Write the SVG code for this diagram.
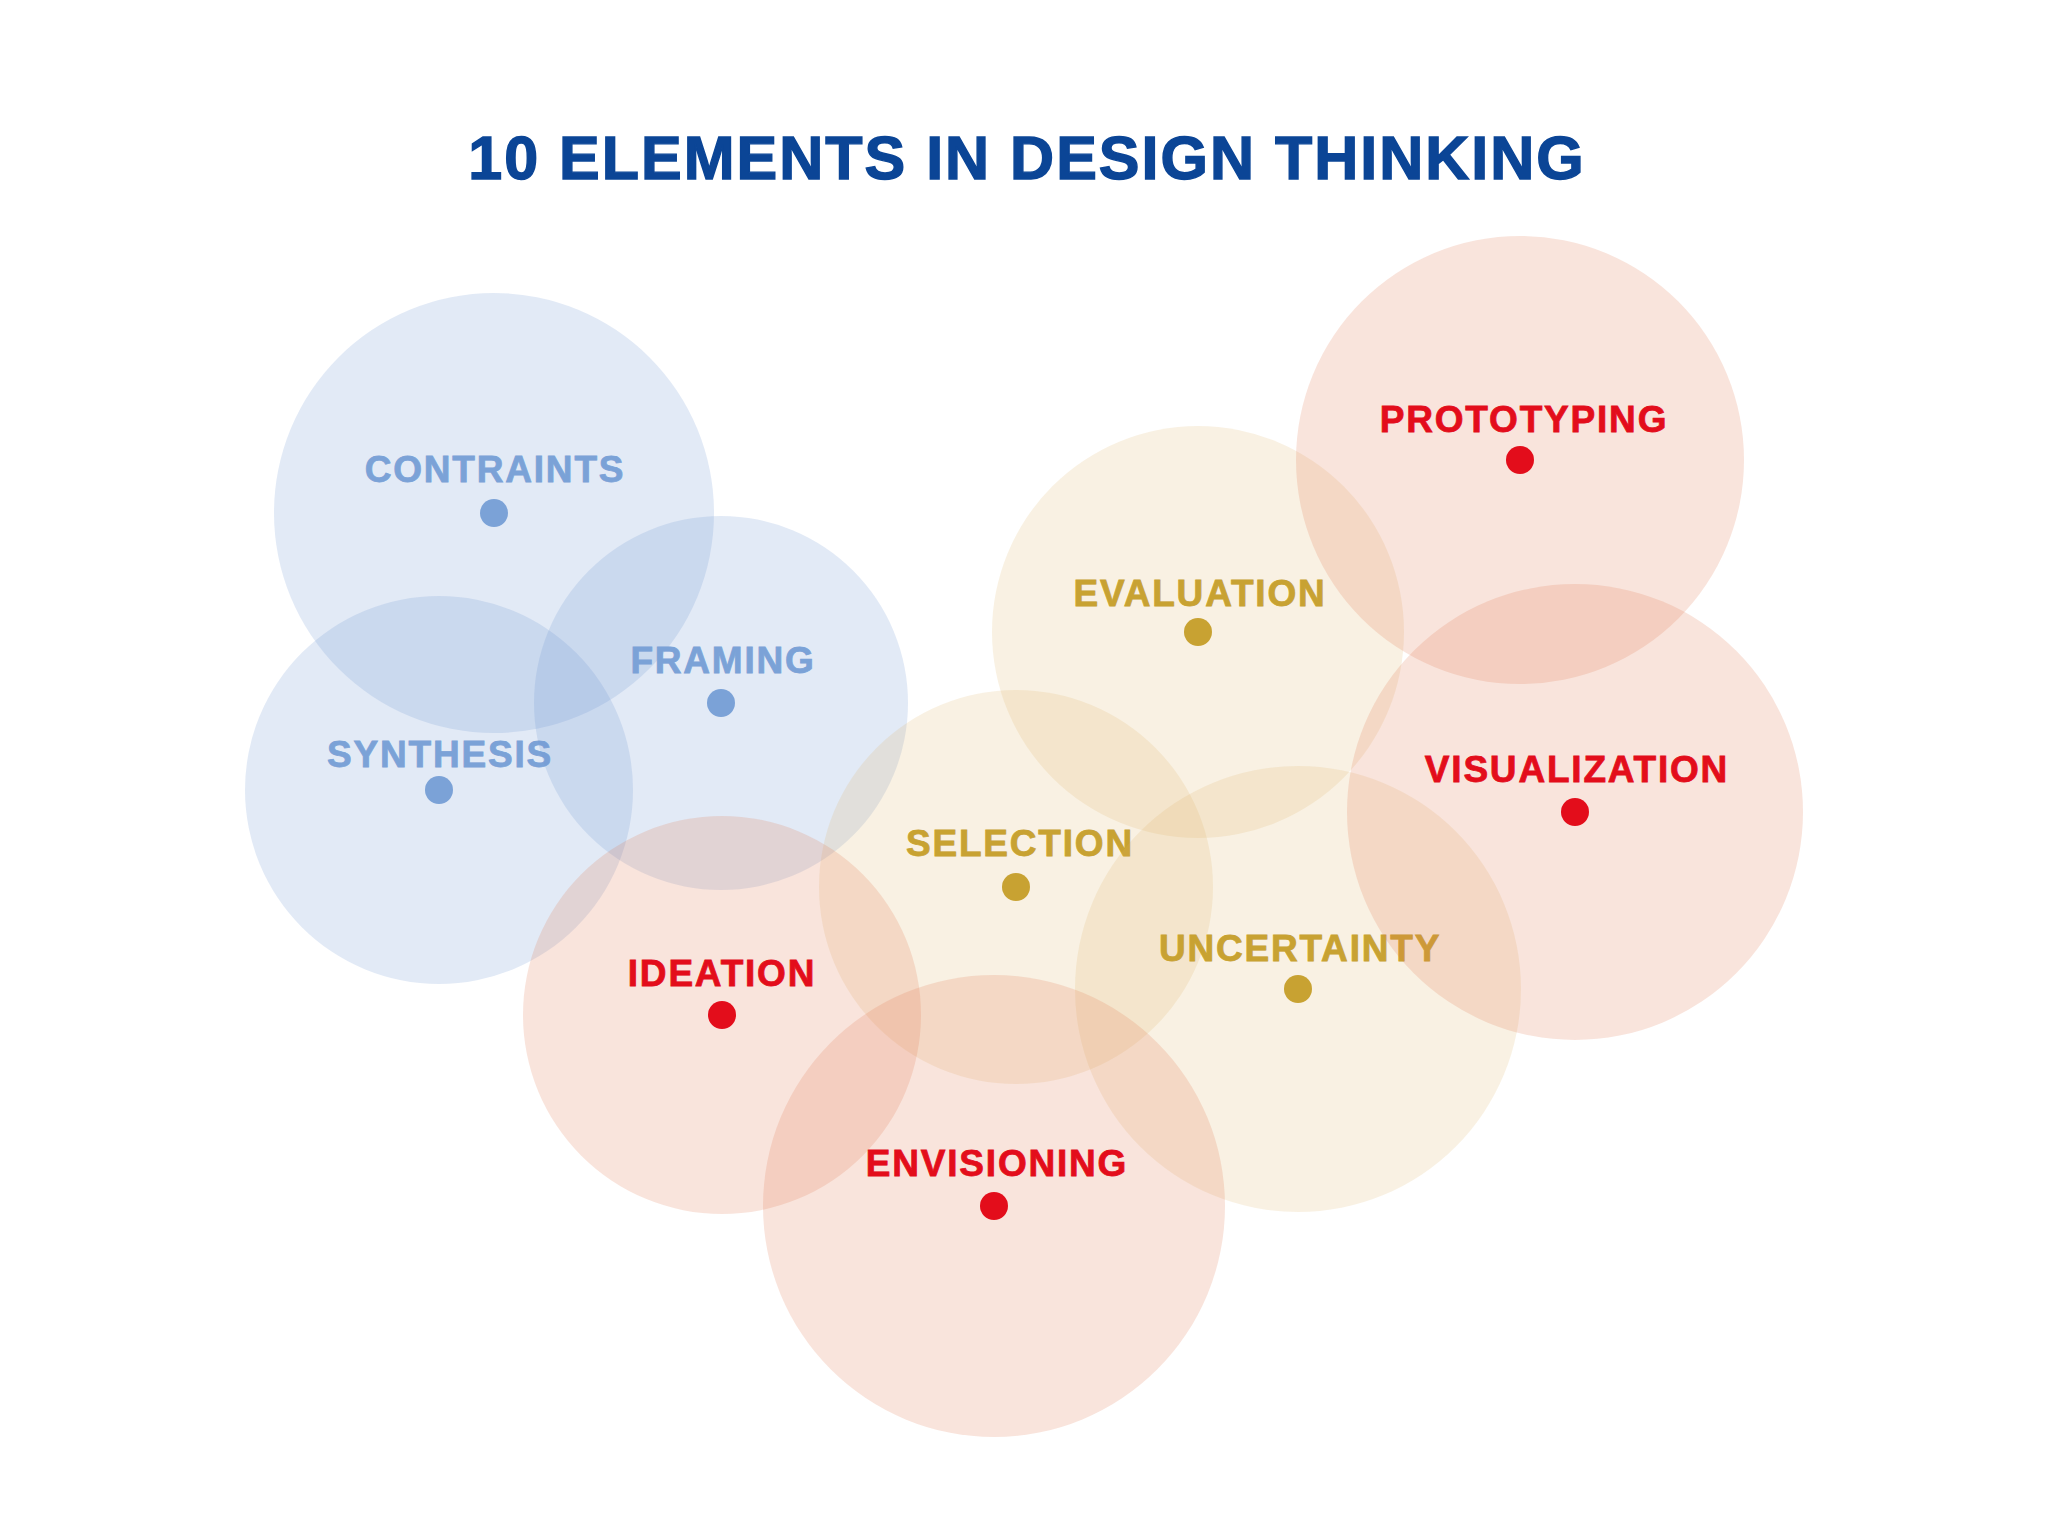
<svg xmlns="http://www.w3.org/2000/svg" width="2048" height="1536" viewBox="0 0 2048 1536">
<style>
.title{font-family:"Liberation Sans",Arial,sans-serif;font-weight:700;font-size:61px;letter-spacing:2px;fill:#0b4596;stroke:#0b4596;stroke-width:1.4px;text-anchor:middle}
.lbl{font-family:"Liberation Sans",Arial,sans-serif;font-weight:700;font-size:37px;letter-spacing:1.8px;text-anchor:middle;stroke-width:0.8px}
.cb{fill:#6e96d2;fill-opacity:0.2}
.cy{fill:#dcb464;fill-opacity:0.18}
.cr{fill:#e17850;fill-opacity:0.2}
.tb{fill:#7ba2d7;stroke:#7ba2d7}
.ty{fill:#c8a232;stroke:#c8a232}
.tr{fill:#e30d1b;stroke:#e30d1b}
circle.tb,circle.ty,circle.tr{stroke:none}
</style>
<rect width="2048" height="1536" fill="#ffffff"/>
<text class="title" x="1027" y="179">10 ELEMENTS IN DESIGN THINKING</text>
<g id="connectors"></g>
<g id="node-contraints">
<circle class="cb" cx="494" cy="513" r="220"/>
<circle class="tb" cx="494" cy="513" r="14"/>
<text class="lbl tb" x="495" y="482">CONTRAINTS</text>
</g>
<g id="node-synthesis">
<circle class="cb" cx="439" cy="790" r="194"/>
<circle class="tb" cx="439" cy="790" r="14"/>
<text class="lbl tb" x="440" y="767">SYNTHESIS</text>
</g>
<g id="node-framing">
<circle class="cb" cx="721" cy="703" r="187"/>
<circle class="tb" cx="721" cy="703" r="14"/>
<text class="lbl tb" x="723" y="673">FRAMING</text>
</g>
<g id="node-evaluation">
<circle class="cy" cx="1198" cy="632" r="206"/>
<circle class="ty" cx="1198" cy="632" r="14"/>
<text class="lbl ty" x="1200" y="606">EVALUATION</text>
</g>
<g id="node-selection">
<circle class="cy" cx="1016" cy="887" r="197"/>
<circle class="ty" cx="1016" cy="887" r="14"/>
<text class="lbl ty" x="1020" y="856">SELECTION</text>
</g>
<g id="node-uncertainty">
<circle class="cy" cx="1298" cy="989" r="223"/>
<circle class="ty" cx="1298" cy="989" r="14"/>
<text class="lbl ty" x="1300" y="961">UNCERTAINTY</text>
</g>
<g id="node-ideation">
<circle class="cr" cx="722" cy="1015" r="199"/>
<circle class="tr" cx="722" cy="1015" r="14"/>
<text class="lbl tr" x="722" y="986">IDEATION</text>
</g>
<g id="node-envisioning">
<circle class="cr" cx="994" cy="1206" r="231"/>
<circle class="tr" cx="994" cy="1206" r="14"/>
<text class="lbl tr" x="997" y="1176">ENVISIONING</text>
</g>
<g id="node-prototyping">
<circle class="cr" cx="1520" cy="460" r="224"/>
<circle class="tr" cx="1520" cy="460" r="14"/>
<text class="lbl tr" x="1524" y="432">PROTOTYPING</text>
</g>
<g id="node-visualization">
<circle class="cr" cx="1575" cy="812" r="228"/>
<circle class="tr" cx="1575" cy="812" r="14"/>
<text class="lbl tr" x="1577" y="782">VISUALIZATION</text>
</g>
</svg>
